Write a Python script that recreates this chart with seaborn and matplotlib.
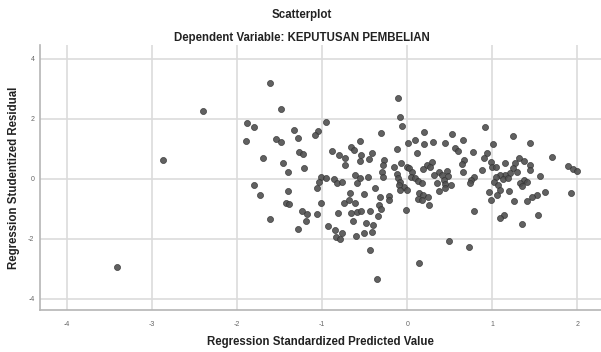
import pandas as pd
import numpy as np
import seaborn as sns
import matplotlib.pyplot as plt

# values (standardized predicted value, studentized residual)
pred = [-3.42, -2.87, -2.40, -1.88, -1.90, -1.80, -1.61, -1.48, -1.33, -0.95,
        -1.05, -1.08, -1.54, -1.49, -1.29, -1.70, -1.27, -1.23, -1.46, -1.40,
        -1.21, -0.89, -0.80, -0.73, -0.73, -0.66, -0.63, -0.56, -1.80, -1.73,
        -1.40, -1.43, -1.39, -1.62, -1.24, -1.18, -1.19, -1.29, -1.06, -1.01,
        -1.02, -1.04, -1.06, -0.96, -0.86, -0.83, -0.77, -0.67, -0.74, -0.68,
        -0.62, -0.81, -0.66, -0.64, -0.59, -0.93, -0.85, -0.77, -0.84, -0.79,
        -0.60, -0.61, -0.59, -0.09, -0.06, -0.31, 0.01, -0.12, -0.54, -0.42,
        -0.55, -0.45, -0.27, -0.29, -0.30, -0.28, -0.15, -0.07, 0.00, -0.12,
        -0.11, -0.08, -0.04, -0.10, -0.09, 0.00, -0.55, -0.46, -0.38, -0.51,
        -0.32, -0.21, -0.22, -0.33, -0.31, -0.34, -0.44, -0.54, -0.48, -0.40,
        -0.02, -0.51, -0.42, -0.44, -0.11, -0.36, 0.14, 0.49, 0.73, 0.91,
        0.20, 0.53, 0.66, 0.09, 0.20, 0.30, 0.45, 1.01, 0.56, 0.60,
        0.11, 0.77, 0.94, 0.90, 0.67, 0.64, 0.99, 1.00, 0.88, 0.29,
        0.23, 0.18, 0.27, 0.02, 0.06, 0.05, 0.37, 0.47, 0.32, 0.41,
        0.48, 0.66, 0.78, 0.75, 0.74, 0.09, 0.13, 0.17, 0.35, 0.43,
        0.45, 0.51, 0.44, 0.37, 0.14, 0.19, 0.24, 0.13, 0.17, 0.26,
        0.96, 0.99, 0.79, 1.25, 1.44, 1.70, 1.89, 1.95, 2.00, 1.93,
        1.56, 1.32, 1.37, 1.45, 1.27, 1.15, 1.04, 1.44, 1.25, 1.29,
        1.21, 1.15, 1.09, 1.04, 1.13, 1.19, 1.37, 1.41, 1.33, 1.35,
        1.02, 1.07, 1.09, 1.20, 1.06, 1.62, 1.53, 1.47, 1.41, 1.26,
        1.54, 1.14, 1.09, 1.35]
resid = [-2.95, 0.63, 2.25, 1.86, 1.25, 1.73, 3.18, 2.32, 1.63, 1.89,
         1.60, 1.46, 1.33, 1.24, 1.35, 0.70, 0.89, 0.82, 0.54, 0.24,
         0.37, 0.94, 0.79, 0.68, 0.46, 1.05, 0.96, 1.26, -0.22, -0.54,
         -0.41, -0.80, -0.84, -1.34, -1.07, -1.18, -1.40, -1.67, -1.16, -0.82,
         0.07, -0.10, -0.30, 0.02, -0.02, -0.15, -0.10, -0.48, -0.80, -0.71,
         -0.80, -1.13, -1.15, -1.40, -1.10, -1.56, -1.71, -1.82, -1.93, -2.01,
         -1.90, 0.13, -0.15, 2.05, 1.76, 1.52, 1.20, 1.00, 0.79, 0.85,
         0.60, 0.66, 0.63, 0.46, 0.24, 0.07, 0.38, 0.52, 0.40, 0.16,
         0.02, -0.10, -0.26, -0.21, -0.37, -0.37, 0.02, 0.05, -0.30, -0.51,
         -0.62, -0.57, -0.71, -0.87, -1.02, -1.24, -1.06, -1.06, -1.46, -1.54,
         -1.04, -1.82, -1.76, -2.37, 2.70, -3.33, -2.80, -2.08, -2.28, 1.74,
         1.57, 1.49, 1.29, 1.29, 1.15, 1.22, 1.18, 1.15, 1.02, 0.94,
         0.85, 0.90, 0.85, 0.68, 0.63, 0.48, 0.57, 0.40, 0.29, 0.57,
         0.46, 0.32, 0.40, 0.35, 0.24, 0.07, 0.24, 0.27, 0.13, 0.13,
         0.09, 0.22, 0.07, -0.04, -0.15, 0.02, -0.06, -0.13, -0.15, -0.04,
         -0.17, -0.21, -0.32, -0.41, -0.46, -0.54, -0.62, -0.68, -0.71, -0.87,
         -0.43, -0.71, -1.07, 1.43, 1.18, 0.74, 0.43, 0.32, 0.26, -0.48,
         0.09, 0.70, 0.60, 0.46, 0.54, 0.52, 0.40, 0.29, 0.35, 0.24,
         0.18, 0.13, 0.13, 0.07, -0.02, 0.02, -0.04, -0.10, -0.15, -0.24,
         -0.10, -0.21, -0.37, -0.40, -0.54, -0.43, -0.54, -0.62, -0.73, -0.73,
         -1.21, -1.21, -1.32, -1.52]

xticks = [-4, -3, -2, -1, 0, 1, 2]
yticks = [-4, -2, 0, 2, 4]

df = pd.DataFrame({'pred': pred, 'resid': resid})

sns.set_style('white')
plt.rcParams['font.family'] = ['Liberation Sans', 'DejaVu Sans']

fig = plt.figure(figsize=(6.01, 3.52), dpi=100)
ax = fig.add_axes([40 / 601, 1 - 310 / 352, 561 / 601, 265 / 352])

sns.scatterplot(data=df, x='pred', y='resid', ax=ax, s=19, color='#505050',
                edgecolor='#333333', linewidth=0.5, alpha=0.9, zorder=3)

ax.set_xlim(-4.32, 2.28)
ax.set_ylim(-4.37, 4.46)
ax.set_xticks(xticks)
ax.set_yticks(yticks)
ax.set_xticklabels([str(t) for t in xticks])
ax.set_yticklabels([str(t) for t in yticks])
ax.grid(True, color='#dcdcdc', linewidth=1.2, zorder=0)
ax.set_axisbelow(True)
ax.tick_params(axis='both', length=0, labelsize=5, labelcolor='#666666')
ax.tick_params(axis='x', pad=8)
ax.tick_params(axis='y', pad=4)

for side in ['top', 'right']:
    ax.spines[side].set_visible(False)
for side in ['left', 'bottom']:
    ax.spines[side].set_color('#b5b5b5')
    ax.spines[side].set_linewidth(1.2)

ax.set_xlabel('Regression Standardized Predicted Value', fontsize=8.3,
              fontweight='bold', color='#222222', labelpad=6)
ax.set_ylabel('Regression Studentized Residual', fontsize=8.3,
              fontweight='bold', color='#222222', labelpad=6)

fig.text(0.503, 1 - 15 / 352, 'Scatterplot', ha='center', va='center',
         fontsize=8.3, fontweight='bold', color='#222222')
fig.text(0.503, 1 - 38 / 352, 'Dependent Variable: KEPUTUSAN PEMBELIAN',
         ha='center', va='center', fontsize=8.3, fontweight='bold', color='#222222')

fig.savefig('out.png', dpi=100)
